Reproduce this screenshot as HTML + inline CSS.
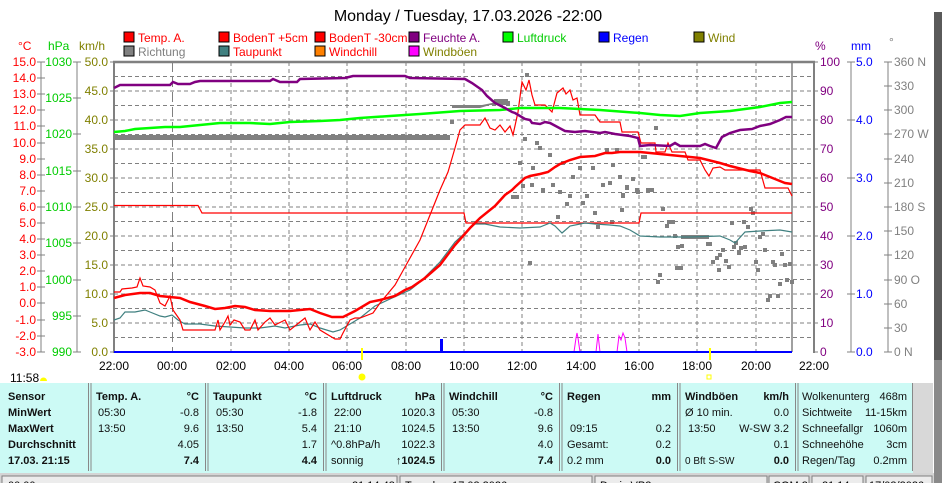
<!DOCTYPE html>
<html><head><meta charset="utf-8"><style>
body{margin:0;background:#fff;width:942px;height:483px;overflow:hidden;font-family:"Liberation Sans",sans-serif}
svg{position:absolute;left:0;top:0}
</style></head><body>
<svg width="942" height="483" viewBox="0 0 942 483" font-family="Liberation Sans, DejaVu Sans, sans-serif">
<rect width="942" height="483" fill="#fff"/>
<text x="468" y="21" font-size="16" text-anchor="middle" fill="#000">Monday / Tuesday, 17.03.2026  -22:00</text>
<!-- legend -->
<g font-size="12">
<rect x="124" y="32" width="10" height="10" fill="#f00" stroke="#000"/><text x="138" y="42" fill="#f00">Temp. A.</text>
<rect x="219" y="32" width="10" height="10" fill="#f00" stroke="#000"/><text x="233" y="42" fill="#f00">BodenT +5cm</text>
<rect x="315" y="32" width="10" height="10" fill="#f00" stroke="#000"/><text x="329" y="42" fill="#f00">BodenT -30cm</text>
<rect x="409" y="32" width="10" height="10" fill="#800080" stroke="#000"/><text x="423" y="42" fill="#800080">Feuchte A.</text>
<rect x="503" y="32" width="10" height="10" fill="#0f0" stroke="#000"/><text x="517" y="42" fill="#0c0">Luftdruck</text>
<rect x="599" y="32" width="10" height="10" fill="#00f" stroke="#000"/><text x="613" y="42" fill="#00f">Regen</text>
<rect x="694" y="32" width="10" height="10" fill="#808000" stroke="#000"/><text x="708" y="42" fill="#808000">Wind</text>
<rect x="124" y="46" width="10" height="10" fill="#808080" stroke="#000"/><text x="138" y="56" fill="#808080">Richtung</text>
<rect x="219" y="46" width="10" height="10" fill="#408080" stroke="#000"/><text x="233" y="56" fill="#f00">Taupunkt</text>
<rect x="315" y="46" width="10" height="10" fill="#ff8000" stroke="#000"/><text x="329" y="56" fill="#f00">Windchill</text>
<rect x="409" y="46" width="10" height="10" fill="#f0f" stroke="#000"/><text x="423" y="56" fill="#808000">Windböen</text>
<text x="18" y="50" fill="#f00">°C</text><text x="48" y="50" fill="#0c0">hPa</text><text x="79" y="50" fill="#808000">km/h</text>
<text x="815" y="50" fill="#800080">%</text><text x="851" y="50" fill="#00f">mm</text><text x="889" y="46" fill="#808080">°</text>
</g>
<!-- grid -->
<g stroke="#808080" stroke-dasharray="4,3" stroke-width="1">
<line x1="114" y1="76.5" x2="814" y2="76.5"/><line x1="114" y1="91" x2="814" y2="91"/><line x1="114" y1="105.5" x2="814" y2="105.5"/><line x1="114" y1="120" x2="814" y2="120"/><line x1="114" y1="134.5" x2="814" y2="134.5"/><line x1="114" y1="149" x2="814" y2="149"/><line x1="114" y1="163.5" x2="814" y2="163.5"/><line x1="114" y1="178" x2="814" y2="178"/><line x1="114" y1="192.5" x2="814" y2="192.5"/><line x1="114" y1="207" x2="814" y2="207"/><line x1="114" y1="221.5" x2="814" y2="221.5"/><line x1="114" y1="236" x2="814" y2="236"/><line x1="114" y1="250.5" x2="814" y2="250.5"/><line x1="114" y1="265" x2="814" y2="265"/><line x1="114" y1="279.5" x2="814" y2="279.5"/><line x1="114" y1="294" x2="814" y2="294"/><line x1="114" y1="308.5" x2="814" y2="308.5"/><line x1="114" y1="323" x2="814" y2="323"/><line x1="114" y1="337.5" x2="814" y2="337.5"/>
<line x1="231" y1="62" x2="231" y2="352"/><line x1="289" y1="62" x2="289" y2="352"/><line x1="347" y1="62" x2="347" y2="352"/><line x1="406" y1="62" x2="406" y2="352"/><line x1="464" y1="62" x2="464" y2="352"/><line x1="522" y1="62" x2="522" y2="352"/><line x1="581" y1="62" x2="581" y2="352"/><line x1="639" y1="62" x2="639" y2="352"/><line x1="697" y1="62" x2="697" y2="352"/><line x1="756" y1="62" x2="756" y2="352"/>
</g>
<line x1="172.5" y1="62" x2="172.5" y2="352" stroke="#808080" stroke-dasharray="10,5"/>
<line x1="792" y1="62" x2="792" y2="352" stroke="#808080" stroke-width="1.5"/>
<!-- frame -->
<line x1="113" y1="62" x2="815" y2="62" stroke="#808080" stroke-width="2.5"/>
<line x1="114" y1="62" x2="114" y2="353" stroke="#808080" stroke-width="2"/>
<line x1="814" y1="62" x2="814" y2="353" stroke="#808080" stroke-width="2"/>
<!-- left axes -->
<g stroke="#808080" stroke-width="1">
<line x1="41" y1="62" x2="41" y2="352"/><line x1="77" y1="62" x2="77" y2="352"/>
<line x1="851" y1="62" x2="851" y2="352"/><line x1="888" y1="62" x2="888" y2="352"/>
</g>
<g font-size="12" fill="#f00" text-anchor="end">
<text x="36" y="66">15.0</text><text x="36" y="82">14.0</text><text x="36" y="98">13.0</text><text x="36" y="114">12.0</text><text x="36" y="130">11.0</text><text x="36" y="147">10.0</text><text x="36" y="163">9.0</text><text x="36" y="179">8.0</text><text x="36" y="195">7.0</text><text x="36" y="211">6.0</text><text x="36" y="227">5.0</text><text x="36" y="243">4.0</text><text x="36" y="259">3.0</text><text x="36" y="275">2.0</text><text x="36" y="291">1.0</text><text x="36" y="307">0.0</text><text x="36" y="324">-1.0</text><text x="36" y="340">-2.0</text><text x="36" y="356">-3.0</text>
</g>
<g stroke="#808080"><path d="M37 62h8M37 78h8M37 94h8M37 110h8M37 126h8M37 143h8M37 159h8M37 175h8M37 191h8M37 207h8M37 223h8M37 239h8M37 255h8M37 271h8M37 287h8M37 303h8M37 320h8M37 336h8M37 352h8"/>
<path d="M73 62h8M73 98h8M73 134h8M73 171h8M73 207h8M73 243h8M73 280h8M73 316h8M73 352h8"/>
<path d="M110 62h4M110 91h4M110 120h4M110 149h4M110 178h4M110 207h4M110 236h4M110 265h4M110 294h4M110 323h4M110 352h4"/>
<path d="M814 62h4M814 91h4M814 120h4M814 149h4M814 178h4M814 207h4M814 236h4M814 265h4M814 294h4M814 323h4M814 352h4"/>
<path d="M847 62h8M847 120h8M847 178h8M847 236h8M847 294h8M847 352h8"/>
<path d="M884 62h8M884 86h8M884 110h8M884 134h8M884 159h8M884 183h8M884 207h8M884 231h8M884 255h8M884 280h8M884 304h8M884 328h8M884 352h8"/></g>
<g font-size="12" fill="#0c0" text-anchor="end">
<text x="72" y="66">1030</text><text x="72" y="102">1025</text><text x="72" y="138">1020</text><text x="72" y="175">1015</text><text x="72" y="211">1010</text><text x="72" y="247">1005</text><text x="72" y="284">1000</text><text x="72" y="320">995</text><text x="72" y="356">990</text>
</g>
<g font-size="12" fill="#808000" text-anchor="end">
<text x="108" y="66">50.0</text><text x="108" y="95">45.0</text><text x="108" y="124">40.0</text><text x="108" y="153">35.0</text><text x="108" y="182">30.0</text><text x="108" y="211">25.0</text><text x="108" y="240">20.0</text><text x="108" y="269">15.0</text><text x="108" y="298">10.0</text><text x="108" y="327">5.0</text><text x="108" y="356">0.0</text>
</g>
<g font-size="12" fill="#800080">
<text x="820" y="66">100</text><text x="820" y="95">90</text><text x="820" y="124">80</text><text x="820" y="153">70</text><text x="820" y="182">60</text><text x="820" y="211">50</text><text x="820" y="240">40</text><text x="820" y="269">30</text><text x="820" y="298">20</text><text x="820" y="327">10</text><text x="820" y="356">0</text>
</g>
<g font-size="12" fill="#00f">
<text x="856" y="66">5.0</text><text x="856" y="124">4.0</text><text x="856" y="182">3.0</text><text x="856" y="240">2.0</text><text x="856" y="298">1.0</text><text x="856" y="356">0.0</text>
</g>
<g font-size="12" fill="#808080">
<text x="894" y="66">360 N</text><text x="894" y="90">330</text><text x="894" y="114">300</text><text x="894" y="138">270 W</text><text x="894" y="163">240</text><text x="894" y="187">210</text><text x="894" y="211">180 S</text><text x="894" y="235">150</text><text x="894" y="259">120</text><text x="894" y="284">90  O</text><text x="894" y="308">60</text><text x="894" y="332">30</text><text x="894" y="356">0    N</text>
</g>
<!-- x labels -->
<g font-size="12" fill="#000" text-anchor="middle">
<text x="114" y="370">22:00</text><text x="172" y="370">00:00</text><text x="231" y="370">02:00</text><text x="289" y="370">04:00</text><text x="347" y="370">06:00</text><text x="406" y="370">08:00</text><text x="464" y="370">10:00</text><text x="522" y="370">12:00</text><text x="581" y="370">14:00</text><text x="639" y="370">16:00</text><text x="697" y="370">18:00</text><text x="756" y="370">20:00</text><text x="814" y="370">22:00</text>
</g>
<!-- direction -->
<g fill="#808080">
<rect x="114" y="135" width="336" height="5"/>
<path d="M452 105h30l20 -4h8v4h-20l-10 3h-28z"/>
<rect x="494" y="99" width="14" height="4"/>
</g>
<g fill="#808080">
<path d="M450,120h4v4h-4zM525,73h4v4h-4zM523,137h4v4h-4zM535,141h4v4h-4zM538,146h4v4h-4zM548,153h4v4h-4zM518,161h4v4h-4zM531,166h4v4h-4zM521,184h4v4h-4zM530,183h4v4h-4zM541,188h4v4h-4zM551,183h4v4h-4zM561,161h4v4h-4zM578,166h4v4h-4zM571,175h4v4h-4zM591,166h4v4h-4zM601,183h4v4h-4zM608,181h4v4h-4zM611,163h4v4h-4zM618,175h4v4h-4zM631,177h4v4h-4zM635,188h4v4h-4zM625,185h4v4h-4zM621,194h4v4h-4zM511,195h8v4h-8zM558,190h4v4h-4zM568,194h4v4h-4zM565,202h4v4h-4zM581,201h4v4h-4zM585,194h4v4h-4zM593,211h4v4h-4zM620,208h4v4h-4zM610,220h4v4h-4zM596,225h4v4h-4zM528,261h4v4h-4zM556,215h4v4h-4zM605,148h4v4h-4zM615,148h4v4h-4z"/>
<path d="M654,126h4v4h-4zM641,155h6v4h-6zM625,186h4v4h-4zM636,190h4v4h-4zM646,188h8v4h-8zM621,193h4v4h-4zM661,207h4v4h-4zM665,224h4v4h-4zM667,220h4v4h-4zM670,220h5v4h-5zM673,234h4v4h-4zM676,245h4v4h-4zM680,244h4v4h-4zM658,273h4v4h-4zM656,280h4v4h-4zM675,266h8v4h-8zM681,235h28v4h-28zM706,242h6v4h-6zM711,260h4v4h-4zM715,256h4v4h-4zM718,253h4v4h-4zM721,248h4v4h-4zM724,259h4v4h-4zM717,268h4v4h-4zM727,265h4v4h-4zM730,221h4v4h-4zM732,245h4v4h-4zM734,241h4v4h-4zM737,251h4v4h-4zM739,246h4v4h-4zM743,245h4v4h-4zM742,220h4v4h-4zM746,225h4v4h-4zM749,207h4v4h-4zM751,211h4v4h-4zM754,260h4v4h-4zM756,268h4v4h-4zM758,235h4v4h-4zM761,232h4v4h-4zM763,248h4v4h-4zM766,298h4v4h-4zM768,294h4v4h-4zM771,260h4v4h-4zM773,263h4v4h-4zM776,294h4v4h-4zM778,282h4v4h-4zM780,252h4v4h-4zM783,263h4v4h-4zM785,278h4v4h-4zM788,262h4v4h-4zM790,280h4v4h-4z"/>
</g>
<!-- BodenT -30cm step -->
<polyline fill="none" stroke="#f00" stroke-width="1.2" points="114,205.5 198,205.5 202,213 464,213 466,223 639,223 641,213 792,213"/>
<!-- Taupunkt -->
<polyline fill="none" stroke="#408080" stroke-width="1.2" points="114,320 120,318 125,312 135,312 145,310 150,312 160,316 165,317 172,315 178,320 185,324 200,324 215,326 230,327 245,328 260,328 275,326 285,328 300,325 310,324 320,328 333,332 340,330 350,324 360,318 375,306 390,299 410,290 420,282 440,262 455,242 465,233 475,224 485,224 500,227 520,228 540,227 550,223 555,226 562,233 570,226 585,223 595,224 610,225 620,226 630,230 640,236 660,237 690,237 720,236 730,240 735,243 745,232 760,231 780,230 792,232"/>
<!-- BodenT +5cm spiky -->
<polyline fill="none" stroke="#f00" stroke-width="1.2" points="114,292 120,292 122,289 132,288 137,287 140,278 143,286 150,287 155,290 160,303 165,306 170,296 173,310 180,320 183,330 215,330 218,320 220,330 225,322 228,316 230,325 234,320 240,322 245,330 250,330 255,320 258,330 265,322 270,318 275,325 285,320 290,330 300,322 305,318 310,330 315,322 320,330 335,339 340,339 343,333 350,320 355,318 360,318 373,313 380,303 395,285 405,267 420,240 432,210 440,190 448,172 455,148 460,130 465,125 470,125 480,125 485,118 490,128 495,130 500,125 505,132 510,126 513,135 518,112 522,82 526,90 529,80 532,95 535,105 545,105 552,112 557,93 563,88 566,94 570,90 573,100 577,98 580,115 585,115 595,115 600,122 620,122 622,132 638,132 641,143 655,143 656,152 665,152 668,143 672,152 685,152 688,160 700,160 705,170 709,176 713,168 720,167 725,170 760,170 765,188 788,188 792,196"/>
<!-- Temp A thick -->
<polyline fill="none" stroke="#f00" stroke-width="2.5" points="114,298 125,295 140,293 150,293 160,296 170,297 180,298 190,302 205,306 215,309 225,308 235,306 245,307 255,310 270,311 290,311 300,310 310,309 320,313 332,317 343,317 355,311 370,302 380,300 395,296 405,290 412,287 425,278 440,265 455,245 470,228 480,218 495,206 505,195 512,190 515,187 525,178 530,176 540,174 548,172 555,167 560,164 570,160 580,157 595,156 605,153 612,153 620,152 640,152 660,154 680,156 700,158 720,163 730,166 750,171 760,173 775,179 785,183 792,184"/>
<!-- pressure -->
<polyline fill="none" stroke="#0f0" stroke-width="2.5" points="114,132 125,131 135,129 150,128 165,127 180,127 200,125 220,123 250,123 270,124 290,122 320,121 340,120 360,118 390,116 420,114 460,111 500,110 520,108 560,108 600,110 640,113 660,115 680,116 700,113 730,111 760,107 780,103 792,102"/>
<!-- humidity -->
<polyline fill="none" stroke="#800080" stroke-width="2.5" points="114,88 120,85 170,85 173,82 178,84 190,84 195,82 200,81 270,81 273,79 280,82 297,82 300,79 345,78 353,76 405,76 410,78 465,79 472,83 482,90 487,96 495,103 505,108 512,112 515,113 525,119 530,120 532,123 540,124 545,122 550,123 565,131 575,132 585,131 600,133 605,132 615,134 630,136 638,138 640,146 650,145 670,146 675,143 680,146 700,146 705,144 710,146 716,148 722,137 730,133 740,130 752,129 760,126 770,124 780,120 786,117 792,117"/>
<!-- windböen -->
<polyline fill="none" stroke="#f0f" stroke-width="1" points="574,352 576,338 577,333 578,338 580,352 596,352 598,334 600,352 617,352 619,336 621,340 623,333 625,338 627,352"/>
<!-- rain -->
<rect x="440" y="339" width="3" height="13" fill="#00f"/>
<line x1="114" y1="352" x2="792" y2="352" stroke="#00f" stroke-width="2"/>
<!-- markers -->
<rect x="361" y="348" width="2" height="12" fill="#ff0"/>
<circle cx="362" cy="377" r="3.5" fill="#ff0"/>
<rect x="709" y="348" width="2" height="12" fill="#ff0"/>
<rect x="707" y="375" width="4" height="4" fill="none" stroke="#ff0"/>
<text x="10" y="382" font-size="12" fill="#000">11:58</text>
<path d="M40 381a3.5 3.5 0 0 1 7 0z" fill="#ff0"/>
<!-- table -->
<rect x="0" y="383" width="913" height="90" fill="#ccfaf5"/>
<rect x="913" y="383" width="20" height="90" fill="#d8d8d8"/>
<g stroke="#888" stroke-width="1"><path d="M88.5 383v88M91 383v88M205.5 383v88M208 383v88M323.5 383v88M326 383v88M441.5 383v88M444 383v88M559.5 383v88M562 383v88M677.5 383v88M680 383v88M795.5 383v88M798 383v88M912.5 383v88"/></g>
<g font-size="11" fill="#111" font-weight="bold">
<text x="8" y="400">Sensor</text><text x="8" y="416">MinWert</text><text x="8" y="432">MaxWert</text><text x="8" y="448">Durchschnitt</text><text x="8" y="464">17.03. 21:15</text>
<text x="96" y="400">Temp. A.</text><text x="213" y="400">Taupunkt</text><text x="331" y="400">Luftdruck</text><text x="449" y="400">Windchill</text><text x="567" y="400">Regen</text><text x="685" y="400">Windböen</text>
<text x="199" y="400" text-anchor="end">°C</text><text x="317" y="400" text-anchor="end">°C</text><text x="435" y="400" text-anchor="end">hPa</text><text x="553" y="400" text-anchor="end">°C</text><text x="671" y="400" text-anchor="end">mm</text><text x="789" y="400" text-anchor="end">km/h</text>
<text x="199" y="464" text-anchor="end">7.4</text><text x="317" y="464" text-anchor="end">4.4</text><text x="435" y="464" text-anchor="end">↑1024.5</text><text x="553" y="464" text-anchor="end">7.4</text><text x="671" y="464" text-anchor="end">0.0</text><text x="789" y="464" text-anchor="end">0.0</text>
</g>
<g font-size="11" fill="#111">
<text x="98" y="416">05:30</text><text x="98" y="432">13:50</text>
<text x="199" y="416" text-anchor="end">-0.8</text><text x="199" y="432" text-anchor="end">9.6</text><text x="199" y="448" text-anchor="end">4.05</text>
<text x="216" y="416">05:30</text><text x="216" y="432">13:50</text>
<text x="317" y="416" text-anchor="end">-1.8</text><text x="317" y="432" text-anchor="end">5.4</text><text x="317" y="448" text-anchor="end">1.7</text>
<text x="334" y="416">22:00</text><text x="334" y="432">21:10</text><text x="331" y="448">^0.8hPa/h</text><text x="331" y="464">sonnig</text>
<text x="435" y="416" text-anchor="end">1020.3</text><text x="435" y="432" text-anchor="end">1024.5</text><text x="435" y="448" text-anchor="end">1022.3</text>
<text x="452" y="416">05:30</text><text x="452" y="432">13:50</text>
<text x="553" y="416" text-anchor="end">-0.8</text><text x="553" y="432" text-anchor="end">9.6</text><text x="553" y="448" text-anchor="end">4.0</text>
<text x="570" y="432">09:15</text><text x="567" y="448">Gesamt:</text><text x="567" y="464">0.2 mm</text>
<text x="671" y="432" text-anchor="end">0.2</text><text x="671" y="448" text-anchor="end">0.2</text>
<text x="685" y="416">Ø 10 min.</text><text x="688" y="432">13:50</text><text x="685" y="464" font-size="10">0 Bft S-SW</text>
<text x="789" y="416" text-anchor="end">0.0</text><text x="789" y="432" text-anchor="end">W-SW 3.2</text><text x="789" y="448" text-anchor="end">0.1</text>
<text x="802" y="400">Wolkenunterg</text><text x="802" y="416">Sichtweite</text><text x="802" y="432">Schneefallgr</text><text x="802" y="448">Schneehöhe</text><text x="802" y="464">Regen/Tag</text>
<text x="907" y="400" text-anchor="end">468m</text><text x="907" y="416" text-anchor="end">11-15km</text><text x="907" y="432" text-anchor="end">1060m</text><text x="907" y="448" text-anchor="end">3cm</text><text x="907" y="464" text-anchor="end">0.2mm</text>
</g>
<!-- status bar -->
<rect x="0" y="473" width="934" height="10" fill="#d4d4d4"/>
<g fill="#ececec" stroke="#808080"><rect x="2" y="476" width="395" height="10"/><rect x="400" y="476" width="192" height="10"/><rect x="595" y="476" width="172" height="10"/><rect x="769" y="476" width="40" height="10"/><rect x="812" y="476" width="51" height="10"/><rect x="866" y="476" width="66" height="10"/></g>
<g font-size="11" fill="#000"><text x="8" y="489">00:00</text><text x="352" y="489">21:14:48</text><text x="405" y="489">Tuesday, 17.03.2026</text><text x="600" y="489">Davis VP2 ...</text><text x="773" y="489">COM 3</text><text x="822" y="489">21:14</text><text x="869" y="489">17/03/2026</text></g>
<rect x="934" y="12" width="8" height="471" fill="#5a5a5a"/>
<rect x="934" y="360" width="8" height="123" fill="#8a8a8a"/>
</svg>
</body></html>
